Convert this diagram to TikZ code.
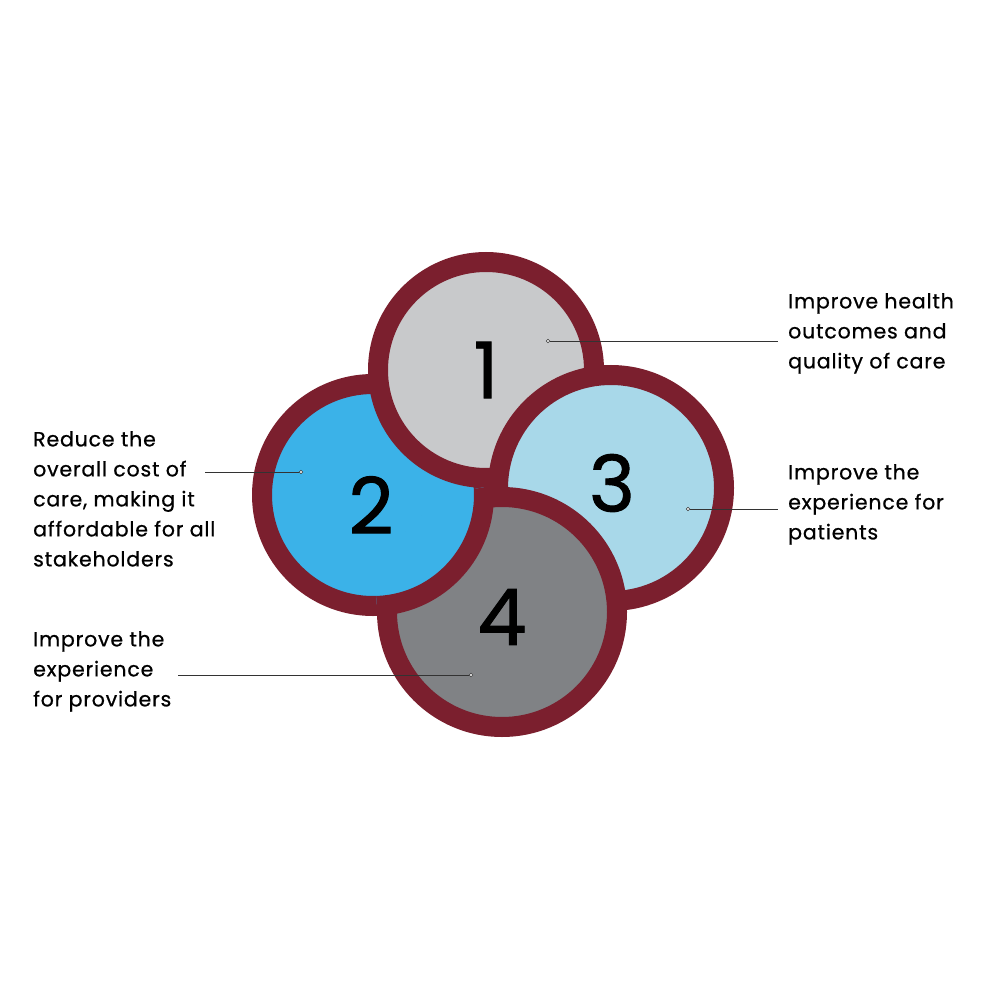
\documentclass[tikz,border=0pt]{standalone}
\usepackage{fontspec}
\setmainfont{Poppins}[FakeBold=1]
\newfontfamily\lblfont{Poppins}[LetterSpace=4,FakeBold=0.7]
\newfontfamily\numfont{Poppins}[FakeBold=1.2]
\begin{document}
\begin{tikzpicture}[x=1pt,y=-1pt,
  ring/.style={draw=maroon,line width=20pt},
  num/.style={font=\numfont\fontsize{78}{80}\selectfont,text=black},
  lbl/.style={font=\lblfont\fontsize{20.5}{30}\selectfont,align=left,anchor=north west,inner sep=0pt,text=black},
  lead/.style={draw=black!80,line width=0.6pt},
  dot/.style={circle,draw=black!80,fill=white,line width=0.5pt,inner sep=0pt,minimum size=3.5pt}]
\definecolor{maroon}{HTML}{7B1F2E}
\definecolor{cone}{HTML}{C8C9CB}
\definecolor{ctwo}{HTML}{3BB2E8}
\definecolor{cthree}{HTML}{A8D8E9}
\definecolor{cfour}{HTML}{808285}
\useasboundingbox (0,0) rectangle (1000,1000);
\fill[white] (0,0) rectangle (1000,1000);
\path[ring,fill=ctwo] (373,495) circle (111);
\path[ring,fill=cone] (486,370) circle (108);
\path[ring,fill=cthree] (611,488) circle (113);
\path[ring,fill=cfour] (502,612) circle (115);
\begin{scope}
 \clip (502,612) circle (126);
 \path[ring,fill=ctwo] (373,495) circle (111);
\end{scope}
\node[num] (n1) at (486,370) {1};
\node[num] (n2) at (371,505) {2};
\node[num] (n3) at (612,483) {3};
\node[num] (n4) at (502,617) {4};
\node[lbl] (t1) at (788,293) {Improve health\\outcomes and\\quality of care};
\node[lbl] (t2) at (33,431) {Reduce the\\overall cost of\\care, making it\\affordable for all\\stakeholders};
\node[lbl] (t3) at (788,464) {Improve the\\experience for\\patients};
\node[lbl] (t4) at (33,631) {Improve the\\experience\\for providers};
\node[dot] (d1) at (548,341) {}; \coordinate (e1) at (778,341);
\node[dot] (d2) at (301,472) {}; \coordinate (e2) at (205,472);
\node[dot] (d3) at (688,509) {}; \coordinate (e3) at (778,509);
\node[dot] (d4) at (471,675) {}; \coordinate (e4) at (178,675);
\draw[lead] (d1) -- (e1); \draw[lead] (d2) -- (e2);
\draw[lead] (d3) -- (e3); \draw[lead] (d4) -- (e4);
\end{tikzpicture}
\end{document}
